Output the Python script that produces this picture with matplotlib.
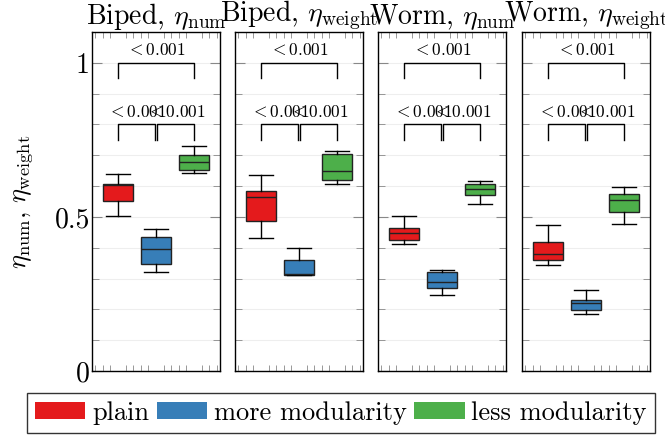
import numpy as np
import matplotlib
matplotlib.use('Agg')
import matplotlib.pyplot as plt
from matplotlib.patches import Patch

plt.rcParams['font.family'] = 'serif'
plt.rcParams['font.serif'] = ['cmr10']
plt.rcParams['mathtext.fontset'] = 'cm'
plt.rcParams['axes.unicode_minus'] = False

# panel titles and groups
titles = [r'Biped, $\eta_\mathrm{num}$', r'Biped, $\eta_\mathrm{weight}$',
          r'Worm, $\eta_\mathrm{num}$', r'Worm, $\eta_\mathrm{weight}$']
groups = ['plain', 'more modularity', 'less modularity']
colors = ['#E41A1C', '#377EB8', '#4DAF4A']

# box stats per panel, order: plain, more, less
whislo = [[0.502, 0.320, 0.641],
          [0.430, 0.310, 0.606],
          [0.413, 0.248, 0.541],
          [0.343, 0.184, 0.478]]
q1 = [[0.553, 0.347, 0.653],
      [0.487, 0.311, 0.620],
      [0.426, 0.268, 0.570],
      [0.361, 0.197, 0.515]]
med = [[0.604, 0.395, 0.677],
       [0.565, 0.316, 0.648],
       [0.447, 0.290, 0.592],
       [0.379, 0.221, 0.554]]
q3 = [[0.608, 0.434, 0.701],
      [0.583, 0.360, 0.705],
      [0.465, 0.321, 0.608],
      [0.418, 0.232, 0.574]]
whishi = [[0.640, 0.462, 0.729],
          [0.635, 0.400, 0.713],
          [0.504, 0.327, 0.617],
          [0.473, 0.264, 0.596]]

# significance brackets (same in every panel)
pairs = [(1, 3), (1, 1.97), (2.03, 3)]
levels = [1.0, 0.8, 0.8]
plabels = [r'$<0.001$', r'$<0.001$', r'$<0.001$']

fig = plt.figure(figsize=(6.65, 4.36), dpi=100)
lefts = [92, 235, 378, 522]

for i in range(4):
    ax = fig.add_axes([lefts[i] / 665, 65 / 436, 128 / 665, 339 / 436])
    stats = []
    for j in range(3):
        stats.append(dict(whislo=whislo[i][j], q1=q1[i][j], med=med[i][j],
                          q3=q3[i][j], whishi=whishi[i][j], fliers=[]))
    bp = ax.bxp(stats, positions=[1, 2, 3], widths=0.8, capwidths=0.63,
                patch_artist=True, showfliers=False,
                boxprops=dict(linewidth=1.0, edgecolor='#222222'),
                medianprops=dict(color='#222222', linewidth=1.0),
                whiskerprops=dict(color='black', linewidth=1.0),
                capprops=dict(color='black', linewidth=1.0))
    for patch, c in zip(bp['boxes'], colors):
        patch.set_facecolor(c)

    for (a, b), lev, lab in zip(pairs, levels, plabels):
        ax.plot([a, a, b, b], [lev - 0.05, lev, lev, lev - 0.05],
                color='black', lw=1.0)
        ax.text((a + b) / 2, lev + 0.042, lab, ha='center', va='center',
                fontsize=12.5)

    ax.set_xlim(0.32, 3.68)
    ax.set_ylim(0, 1.1)
    ax.set_yticks([0, 0.5, 1])
    ax.set_yticks(np.arange(0, 1.1, 0.1), minor=True)
    ax.yaxis.grid(True, which='both', color='#eeeeee', lw=0.8)
    ax.set_axisbelow(True)
    ax.set_xticks([1, 2, 3])
    xm = [x for x in np.arange(0.4, 3.7, 0.2) if abs(x - round(x)) > 0.05]
    ax.set_xticks(xm, minor=True)
    ax.tick_params(axis='x', which='major', length=0, labelbottom=False)
    ax.tick_params(axis='x', which='minor', direction='in', length=4,
                   color='#888888', top=True, bottom=True)
    ax.tick_params(axis='y', which='both', direction='in', color='#888888',
                   left=True, right=True)
    ax.tick_params(axis='y', which='major', length=7, pad=1.5)
    ax.tick_params(axis='y', which='minor', length=5)
    if i == 0:
        ax.set_yticklabels(['0', '0.5', '1'], fontsize=20)
        ax.set_ylabel(r'$\eta_\mathrm{num}$, $\eta_\mathrm{weight}$',
                      fontsize=19, labelpad=14)
    else:
        ax.set_yticklabels([])
    ax.set_title(titles[i], fontsize=20, pad=2)
    for s in ax.spines.values():
        s.set_linewidth(1.0)

handles = [Patch(facecolor=c, edgecolor='none') for c in colors]
leg = fig.legend(handles, groups, loc='center', ncol=3,
                 bbox_to_anchor=(341 / 665, 1 - 413 / 436), fontsize=19,
                 frameon=True, fancybox=False, edgecolor='black',
                 handlelength=1.9, handleheight=0.6, handletextpad=0.25,
                 columnspacing=0.3, borderpad=0.3)
leg.get_frame().set_linewidth(1.0)

fig.savefig('out.png', dpi=100)
